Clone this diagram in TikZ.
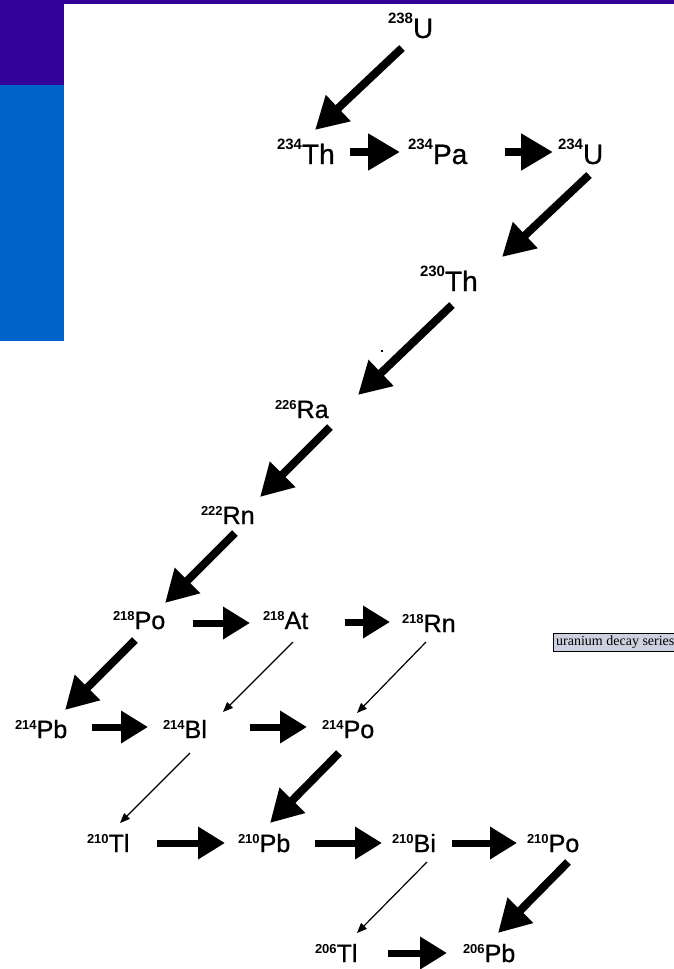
\documentclass[tikz,border=0pt]{standalone}
\usepackage{fontspec}
\setmainfont{Liberation Sans}
\newfontfamily\labelserif{Liberation Serif}
\newfontfamily\isomain[FakeBold=0.8]{Liberation Sans}
\usetikzlibrary{arrows.meta,calc}
\definecolor{barpurple}{HTML}{330099}
\definecolor{barblue}{HTML}{0063CC}
\definecolor{labelfill}{HTML}{CDD0DE}
\newcommand{\isoT}[2]{\raisebox{15pt}{\fontsize{15}{15}\selectfont\bfseries #1}{\isomain\fontsize{28}{28}\selectfont #2}}
\newcommand{\isoL}[2]{\raisebox{9pt}{\fontsize{13}{13}\selectfont\bfseries #1}{\isomain\fontsize{25}{25}\selectfont #2}}
\tikzset{
  iso/.style={inner sep=0pt, outer sep=0pt, anchor=base west},
  bigdiag/.style={line width=8pt, -{Triangle[length=32pt,width=34pt]}},
  bighor/.style={line width=8pt, -{Triangle[length=32pt,width=35pt]}},
  lowhor/.style={line width=7pt, -{Triangle[length=27pt,width=31pt]}},
  thinarr/.style={line width=1.2pt, -{Triangle[length=10pt,width=8pt]}},
  topbar/.style={fill=barpurple, draw=none},
  sidebar/.style={fill=barblue, draw=none},
  tagrect/.style={draw=black, line width=0.7pt, fill=labelfill},
  tagtext/.style={inner sep=0pt, font=\labelserif\fontsize{14}{14}\selectfont, anchor=west}
}
\begin{document}
\begin{tikzpicture}[x=1pt,y=-1pt]
\useasboundingbox (0,0) rectangle (674,969);
\fill[white] (0,0) rectangle (674,969);
% bars
\fill[topbar] (0,0) rectangle (674,4);
\fill[topbar] (0,0) rectangle (64,85);
\fill[sidebar] (0,85) rectangle (64,341);
\fill[black] (381,350) rectangle (383,352);
% nodes
\node[iso] (u238) at (388,38) {\isoT{238}{U}};
\node[iso] (th234) at (277,164) {\isoT{234}{Th}};
\node[iso] (pa234) at (408,164) {\isoT{234}{Pa}};
\node[iso] (u234) at (558,164) {\isoT{234}{U}};
\node[iso] (th230) at (420,291) {\isoT{230}{Th}};
\node[iso] (ra226) at (275,418) {\isoL{226}{Ra}};
\node[iso] (rn222) at (201,524) {\isoL{222}{Rn}};
\node[iso] (po218) at (113,629) {\isoL{218}{Po}};
\node[iso] (at218) at (263,629) {\isoL{218}{At}};
\node[iso] (rn218) at (402,632) {\isoL{218}{Rn}};
\node[iso] (pb214) at (15,738) {\isoL{214}{Pb}};
\node[iso] (bi214) at (163,738) {\isoL{214}{Bl}};
\node[iso] (po214) at (322,738) {\isoL{214}{Po}};
\node[iso] (tl210) at (87,852) {\isoL{210}{Tl}};
\node[iso] (pb210) at (238,852) {\isoL{210}{Pb}};
\node[iso] (bi210) at (392,852) {\isoL{210}{Bi}};
\node[iso] (po210) at (527,852) {\isoL{210}{Po}};
\node[iso] (tl206) at (315,962) {\isoL{206}{Tl}};
\node[iso] (pb206) at (463,962) {\isoL{206}{Pb}};
% label tag
\draw[tagrect] (553,633) rectangle (700,651);
\node[tagtext] (tag) at (556,642) {uranium decay series};
% thick diagonal arrows
\draw[bigdiag] ($(u238.base west)+(14,10)$) -- ($(th234.base west)+(38,-34)$);
\draw[bigdiag] ($(u234.base west)+(31,11)$) -- ($(th230.base west)+(82,-34)$);
\draw[bigdiag] ($(th230.base west)+(32,14)$) -- ($(ra226.base west)+(83,-23)$);
\draw[bigdiag] ($(ra226.base west)+(55,9)$) -- ($(rn222.base west)+(59,-27)$);
\draw[bigdiag] ($(rn222.base west)+(34,9)$) -- ($(po218.base west)+(52,-26)$);
\draw[bigdiag] ($(po218.base west)+(22,11)$) -- ($(pb214.base west)+(50,-28)$);
\draw[bigdiag] ($(po214.base west)+(17,15)$) -- ($(pb210.base west)+(32,-29)$);
\draw[bigdiag] ($(po210.base west)+(41,10)$) -- ($(pb206.base west)+(35,-29)$);
% horizontal arrows
\draw[bighor] ($(th234.base west)+(73,-12)$) -- ($(pa234.base west)+(-8,-12)$);
\draw[bighor] ($(pa234.base west)+(97,-12)$) -- ($(u234.base west)+(-5,-12)$);
\draw[lowhor] ($(po218.base west)+(80,-6)$) -- ($(at218.base west)+(-13,-6)$);
\draw[lowhor] ($(at218.base west)+(82,-7)$) -- ($(rn218.base west)+(-12,-10)$);
\draw[lowhor] ($(pb214.base west)+(77,-11)$) -- ($(bi214.base west)+(-15,-11)$);
\draw[lowhor] ($(bi214.base west)+(87,-11)$) -- ($(po214.base west)+(-15,-11)$);
\draw[lowhor] ($(tl210.base west)+(70,-9)$) -- ($(pb210.base west)+(-13,-9)$);
\draw[lowhor] ($(pb210.base west)+(77,-9)$) -- ($(bi210.base west)+(-10,-9)$);
\draw[lowhor] ($(bi210.base west)+(60,-9)$) -- ($(po210.base west)+(-10,-9)$);
\draw[lowhor] ($(tl206.base west)+(73,-9)$) -- ($(pb206.base west)+(-16,-9)$);
% thin arrows
\draw[thinarr] ($(at218.base west)+(30,13)$) -- ($(bi214.base west)+(60,-26)$);
\draw[thinarr] ($(rn218.base west)+(24,10)$) -- ($(po214.base west)+(35,-25)$);
\draw[thinarr] ($(bi214.base west)+(27,15)$) -- ($(tl210.base west)+(33,-29)$);
\draw[thinarr] ($(bi210.base west)+(35,10)$) -- ($(tl206.base west)+(42,-29)$);
\end{tikzpicture}
\end{document}
